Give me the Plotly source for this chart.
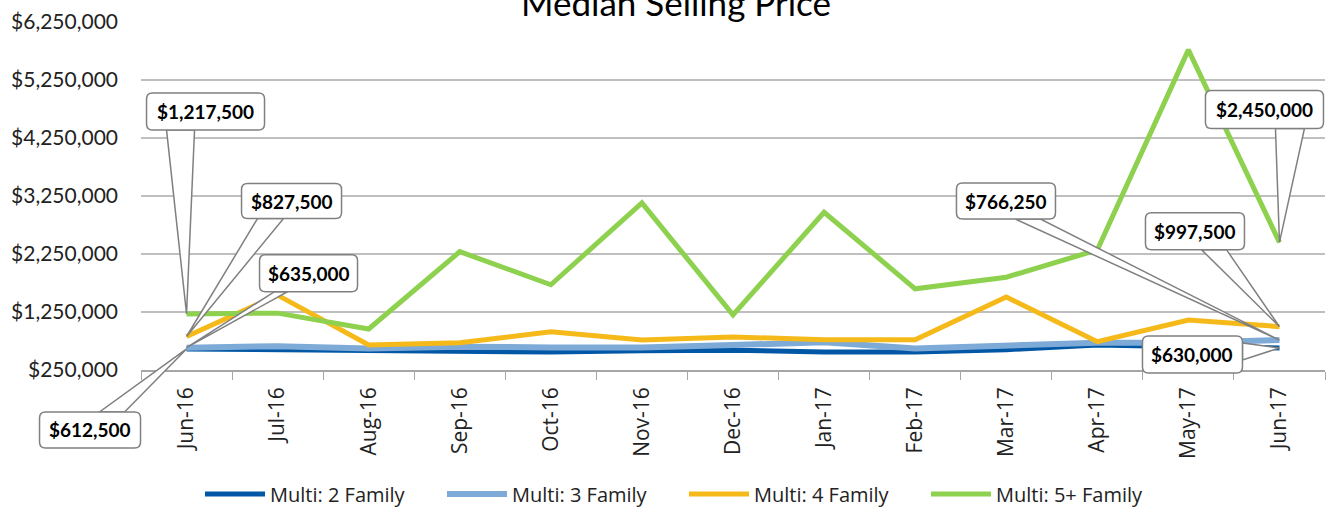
import plotly.graph_objects as go

months = ["Jun-16", "Jul-16", "Aug-16", "Sep-16", "Oct-16", "Nov-16", "Dec-16",
          "Jan-17", "Feb-17", "Mar-17", "Apr-17", "May-17", "Jun-17"]

multi2 = [612500, 600000, 590000, 560000, 560000, 580000, 590000,
          560000, 560000, 600000, 680000, 650000, 630000]
multi3 = [635000, 660000, 620000, 650000, 640000, 640000, 680000,
          730000, 620000, 680000, 720000, 720000, 766250]
multi4 = [827500, 1540000, 680000, 720000, 910000, 767000, 820000,
          770000, 770000, 1510000, 738000, 1110000, 997500]
multi5 = [1217500, 1230000, 957000, 2290000, 1720000, 3130000, 1200000,
          2970000, 1650000, 1850000, 2320000, 5770000, 2450000]

series_names = ["Multi: 2 Family", "Multi: 3 Family", "Multi: 4 Family", "Multi: 5+ Family"]
series_vals = [multi2, multi3, multi4, multi5]
colors = ["#0057A6", "#7DAAD6", "#F5B91A", "#8ED14F"]
widths = [5, 6, 5, 5]

y_ticks = [250000, 1250000, 2250000, 3250000, 4250000, 5250000, 6250000]
Y_RANGE = [250000, 6250000]
X_RANGE = [-0.5, len(months) - 0.5]

FONT = "Lato"
fig = go.Figure()
for name, vals, c, w in zip(series_names, series_vals, colors, widths):
    fig.add_trace(go.Scatter(x=months, y=vals, mode="lines", name=name,
                             line=dict(color=c, width=w)))

# callouts: (series index, point index, box x0,x1, box top,bottom (px up from point), wedge base points)
callouts = [
    (3, 0, (-40, 78, 221, 184), [(-20, 184), (8, 184)]),
    (2, 0, (55, 155, 153, 118), [(71, 118), (97, 118)]),
    (1, 0, (73, 171, 93, 56), [(88, 56), (101, 56)]),
    (0, 0, (-147, -46, -63, -99), [(-87, -63), (-62, -63)]),
    (3, 12, (-74, 44, 152, 114), [(-4, 114), (25, 114)]),
    (1, 12, (-323, -224, 157, 121), [(-264, 121), (-239, 121)]),
    (2, 12, (-134, -35, 114, 77), [(-78, 77), (-53, 77)]),
    (0, 12, (-137, -37, 12, -25), [(-37, 5), (-37, -12)]),
]


def rrect(x0, x1, top, bot, r=6):
    return (f"M{x0 + r},{top} L{x1 - r},{top} Q{x1},{top} {x1},{top - r} "
            f"L{x1},{bot + r} Q{x1},{bot} {x1 - r},{bot} L{x0 + r},{bot} "
            f"Q{x0},{bot} {x0},{bot + r} L{x0},{top - r} Q{x0},{top} {x0 + r},{top} Z")


for si, pi, (bx0, bx1, btop, bbot), wedge in callouts:
    ya = series_vals[si][pi]
    # anchor in axis-domain fractions (domain refs are not clipped to the plot area)
    fx = (pi - X_RANGE[0]) / (X_RANGE[1] - X_RANGE[0])
    fy = (ya - Y_RANGE[0]) / (Y_RANGE[1] - Y_RANGE[0])
    (wx0, wy0), (wx1, wy1) = wedge
    common = dict(type="path", xref="x domain", yref="y domain", xsizemode="pixel",
                  ysizemode="pixel", xanchor=fx, yanchor=fy, fillcolor="white",
                  line=dict(color="#808080", width=1.5), layer="above")
    fig.add_shape(path=f"M0,0 L{wx0},{wy0} L{wx1},{wy1} Z", **common)
    fig.add_shape(path=rrect(bx0, bx1, btop, bbot), **common)
    fig.add_annotation(x=months[pi], y=ya, xref="x", yref="y", showarrow=False,
                       text=f"<b>${ya:,.0f}</b>",
                       xshift=(bx0 + bx1) / 2, yshift=(btop + bbot) / 2,
                       font=dict(family=FONT, size=19, color="black"))

fig.add_annotation(text="Median Selling Price", xref="paper", yref="paper",
                   x=0.452, y=1.0, yshift=-3, yanchor="bottom", showarrow=False,
                   font=dict(family=FONT, size=35, color="black"))

fig.update_layout(
    width=1329, height=508,
    margin=dict(l=141, r=4, t=22, b=138, autoexpand=False),
    paper_bgcolor="white", plot_bgcolor="white",
    font=dict(family=FONT, size=18, color="#222222"),
    showlegend=True,
    legend=dict(orientation="h", x=(200 - 141) / 1184, xanchor="left", y=-0.356,
                yanchor="middle", entrywidth=167, entrywidthmode="pixels",
                font=dict(family="Open Sans", size=20, color="#222222"), itemwidth=60,
                traceorder="normal"),
)
fig.update_xaxes(type="category", showgrid=False, showline=True, linecolor="#A6A6A6",
                 linewidth=1.5, ticks="outside", tickson="boundaries", ticklen=8,
                 tickcolor="#A6A6A6", tickangle=-90, automargin=False,
                 tickfont=dict(family="Open Sans", size=21, color="#222222"),
                 ticklabelstandoff=7, range=X_RANGE)
fig.update_yaxes(range=Y_RANGE, tickvals=y_ticks, tickformat="$,.0f", automargin=False,
                 showgrid=True, gridcolor="#BFBFBF", gridwidth=1.5, zeroline=False,
                 showline=False, tickfont=dict(family=FONT, size=21, color="#222222"), ticks="",
                 ticklabelstandoff=22)

fig.write_html("out.html", config={"displayModeBar": False},
               post_script="document.body.style.margin='0px';")
